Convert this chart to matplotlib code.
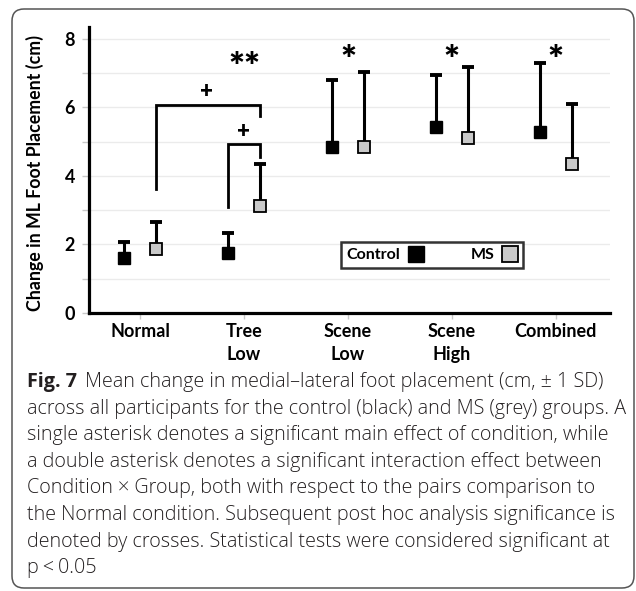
import numpy as np
import matplotlib.pyplot as plt
from matplotlib.patches import FancyBboxPatch

plt.rcParams['font.family'] = ['Lato', 'DejaVu Sans']
plt.rcParams['font.weight'] = 'bold'

# data (mean change, +1 SD)
conditions = ['Normal', 'Tree\nLow', 'Scene\nLow', 'Scene\nHigh', 'Combined']
control_mean = [1.61, 1.76, 4.86, 5.42, 5.28]
control_sd = [0.45, 0.57, 1.93, 1.52, 2.02]
ms_mean = [1.86, 3.11, 4.84, 5.12, 4.35]
ms_sd = [0.79, 1.25, 2.20, 2.07, 1.74]

# significance marks
star_labels = ['', '**', '*', '*', '*']
star_y = [np.nan, 7.47, 7.68, 7.68, 7.68]

caption_lines = [
    'across all participants for the control (black) and MS (grey) groups. A',
    'single asterisk denotes a significant main effect of condition, while',
    'a double asterisk denotes a significant interaction effect between',
    'Condition \u00d7 Group, both with respect to the pairs comparison to',
    'the Normal condition. Subsequent post hoc analysis significance is',
    'denoted by crosses. Statistical tests were considered significant at',
    'p\u2009<\u20090.05',
]

W, H = 636, 591
fig = plt.figure(figsize=(W / 100, H / 100), dpi=100)
ax = fig.add_axes([89 / W, 1 - 313 / H, (610 - 89) / W, (313 - 27) / H])

x = np.arange(len(conditions))
off = 0.155
xc = x - off
xm = x + off

ax.errorbar(xc, control_mean, yerr=[np.zeros(5), control_sd], fmt='none',
            ecolor='black', elinewidth=2.2, capsize=4.5, capthick=2.8, zorder=3)
ax.errorbar(xm, ms_mean, yerr=[np.zeros(5), ms_sd], fmt='none',
            ecolor='black', elinewidth=2.2, capsize=4.5, capthick=2.8, zorder=3)
ax.plot(xc, control_mean, 's', color='black', ms=9, mec='black', mew=1,
        label='Control', zorder=4)
ax.plot(xm, ms_mean, 's', color='#c9c9c9', ms=9, mec='black', mew=1.3,
        label='MS', zorder=4)

# asterisks (text baseline sits high in the font, nudge down)
for i, (s, sy) in enumerate(zip(star_labels, star_y)):
    if s:
        ax.text(x[i], sy - 0.32, s, ha='center', va='center', fontsize=27,
                fontweight='heavy')

# post hoc brackets
ax.plot([xm[0], xm[0], xm[1], xm[1]], [3.61, 6.07, 6.07, 5.76],
        color='black', lw=2, solid_joinstyle='miter')
ax.plot([xc[1], xc[1], xm[1], xm[1]], [3.09, 4.92, 4.92, 4.54],
        color='black', lw=2, solid_joinstyle='miter')
ax.text(0.64, 6.47, '+', ha='center', va='center', fontsize=16, fontweight='heavy')
ax.text(1.0, 5.29, '+', ha='center', va='center', fontsize=16, fontweight='heavy')

ax.set_xlim(-0.49, 4.52)
ax.set_ylim(0, 8.35)
ax.set_xticks(x)
ax.set_xticklabels(conditions, fontsize=13, fontweight='bold', linespacing=1.45)
ax.set_yticks([0, 2, 4, 6, 8])
ax.set_yticks([1, 3, 5, 7], minor=True)
ax.tick_params(axis='y', which='both', length=5, width=1, color='#c8c8c8',
               labelsize=13, pad=5)
ax.tick_params(axis='x', length=4, width=1, color='#c8c8c8', pad=3)
ax.grid(axis='y', which='both', color='#ebebeb', lw=1)
ax.set_axisbelow(True)
for s in ['top', 'right']:
    ax.spines[s].set_visible(False)
for s in ['left', 'bottom']:
    ax.spines[s].set_linewidth(2.3)
ax.set_ylabel('Change in ML Foot Placement (cm)', fontsize=12.8,
              fontweight='bold')
ax.yaxis.set_label_coords(-0.086, 0.49)

leg = ax.legend(loc='center', bbox_to_anchor=(432 / W, 1 - 255 / H),
                bbox_transform=fig.transFigure, ncol=2, markerfirst=False,
                frameon=True, fancybox=False, edgecolor='black',
                fontsize=11.5, handlelength=0.9, handletextpad=0.5,
                columnspacing=3.0, borderpad=0.35, borderaxespad=0)
leg.get_frame().set_linewidth(1.8)
for h in leg.legend_handles:
    h.set_markersize(12)

# outer rounded frame
box = FancyBboxPatch((12, 3), 622, 579, boxstyle='round,pad=0,rounding_size=12',
                     transform=None, facecolor='none', edgecolor='#555555',
                     lw=1.1)
fig.patches.append(box)

# caption
cap_col = '#231f20'
cap_font = ['Open Sans', 'DejaVu Sans']
y0 = 382
dy = 26.6
fig.text(27 / W, 1 - y0 / H, 'Fig. 7', fontsize=14.2, fontweight='bold',
         family=cap_font, color=cap_col, va='center')
fig.text(85 / W, 1 - y0 / H,
         'Mean change in medial\u2013lateral foot placement (cm, \u00b1 1 SD)',
         fontsize=14.2, fontweight='light', family=cap_font,
         color=cap_col, va='center')
for k, line in enumerate(caption_lines):
    fig.text(27 / W, 1 - (y0 + dy * (k + 1)) / H, line, fontsize=14.2,
             fontweight='light', family=cap_font,
             color=cap_col, va='center')

fig.savefig('out.png', dpi=100, facecolor='white')
